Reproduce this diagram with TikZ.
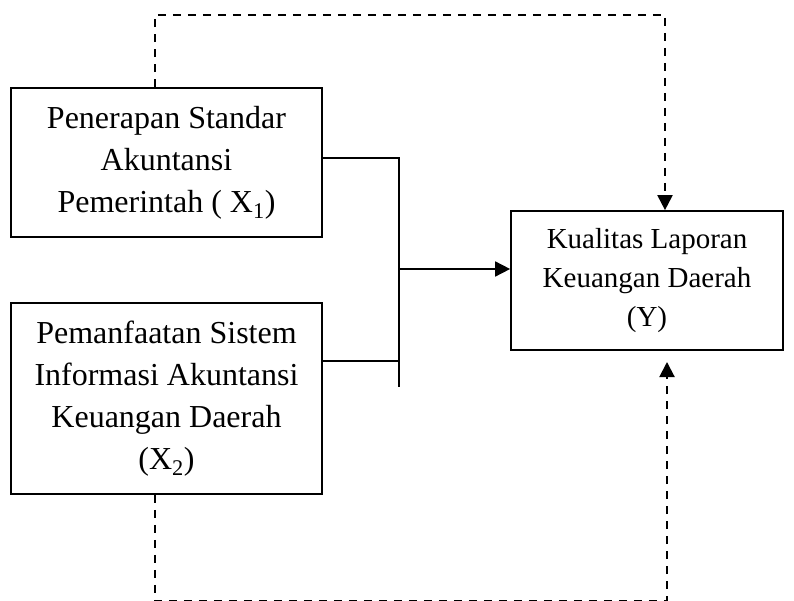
\documentclass[tikz,border=0pt]{standalone}
\usepackage{fontspec}
\setmainfont{Liberation Serif}
\usetikzlibrary{arrows.meta}
\begin{document}
\begin{tikzpicture}[x=1pt,y=-1pt,
  box/.style={draw,line width=1.7pt,align=center,inner sep=0pt,anchor=center},
  xtext/.style={font=\fontsize{32}{42}\selectfont},
  ytext/.style={font=\fontsize{29}{39}\selectfont},
  conn/.style={line width=1.7pt},
  dashconn/.style={line width=2pt,dash pattern=on 8pt off 7pt},
  tip/.style={-{Triangle[width=15pt,length=15pt]}}]
\useasboundingbox (0,0) rectangle (794,601);
\node[box,xtext,minimum width=311pt,minimum height=149pt] (x1) at (166.5,162.5)
  {Penerapan Standar\\Akuntansi\\Pemerintah ( X\textsubscript{1})};
\node[box,xtext,minimum width=311pt,minimum height=191pt] (x2) at (166.5,398.5)
  {Pemanfaatan Sistem\\Informasi Akuntansi\\Keuangan Daerah\\(X\textsubscript{2})};
\node[box,ytext,minimum width=272pt,minimum height=139pt] (y) at (647,280.5)
  {Kualitas Laporan\\Keuangan Daerah\\(Y)};
% junction
\coordinate (j1) at (399,158);
\coordinate (j2) at (399,361);
\coordinate (jb) at (399,387);
\coordinate (ja) at (399,269);
\draw[conn] (x1.east |- j1) -- (j1) -- (jb);
\draw[conn] (x2.east |- j2) -- (j2);
\draw[conn,tip] (ja) -- (ja -| y.west);
% dashed top
\coordinate (t1) at (155,15);
\coordinate (t2) at (665,15);
\draw[dashconn,tip] (x1.north -| t1) -- (t1) -- (t2) -- (t2 |- y.north);
% dashed bottom
\coordinate (b1) at (155,601);
\coordinate (b2) at (667,601);
\coordinate (b3) at (667,362);
\draw[dashconn,tip] (x2.south -| b1) -- (b1) -- (b2) -- (b3);
\end{tikzpicture}
\end{document}
